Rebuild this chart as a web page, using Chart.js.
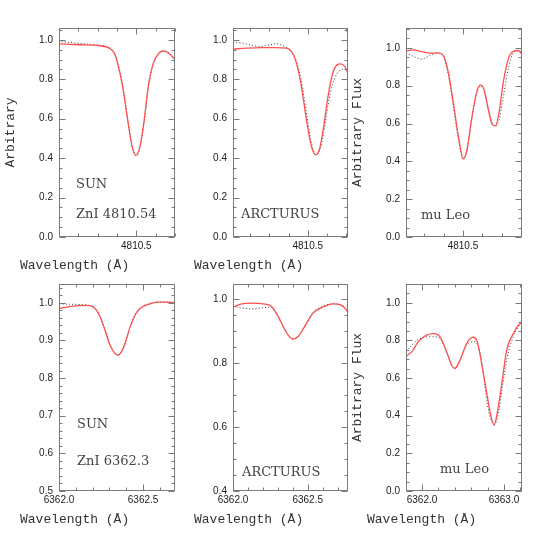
<!DOCTYPE html>
<html><head><meta charset="utf-8">
<script src="https://cdn.jsdelivr.net/npm/chart.js@4.4.0/dist/chart.umd.min.js"></script>
<style>
html,body{margin:0;padding:0;background:#fff;}
#wrap{position:relative;width:550px;height:550px;}
#wrap canvas{position:absolute;left:0;top:0;}
</style></head><body><div id="wrap"></div>
<script>
// ---------- DATA ----------
// Tick labels
const ticksZn4810 = [4810.5];
const ticksZn6362 = [6362.0, 6362.5];
const ticksZn6362Wide = [6362.0, 6363.0];
const ticksFlux01 = [0.0, 0.2, 0.4, 0.6, 0.8, 1.0];
const ticksFluxSun6362 = [0.5, 0.6, 0.7, 0.8, 0.9, 1.0];
const ticksFluxArc6362 = [0.4, 0.6, 0.8, 1.0];

// Panel 1: SUN, ZnI 4810.54
const sun4810SolidWave = [4810.097, 4810.205, 4810.308, 4810.36, 4810.386, 4810.403, 4810.429, 4810.455, 4810.478, 4810.498, 4810.519, 4810.541, 4810.562, 4810.588, 4810.616, 4810.64, 4810.668, 4810.697];
const sun4810SolidFlux = [0.98, 0.975, 0.97, 0.958, 0.932, 0.882, 0.764, 0.595, 0.46, 0.414, 0.46, 0.595, 0.764, 0.882, 0.932, 0.943, 0.932, 0.902];
const sun4810DotWave = [4810.097, 4810.15, 4810.205, 4810.26, 4810.308, 4810.36, 4810.386, 4810.403, 4810.429, 4810.455, 4810.478, 4810.498, 4810.519, 4810.541, 4810.562, 4810.588, 4810.616, 4810.64, 4810.668, 4810.697];
const sun4810DotFlux = [0.992, 0.988, 0.982, 0.977, 0.973, 0.96, 0.935, 0.888, 0.772, 0.60, 0.46, 0.412, 0.455, 0.59, 0.76, 0.88, 0.932, 0.945, 0.935, 0.905];

// Panel 2: ARCTURUS 4810
const arc4810SolidWave = [4810.111, 4810.181, 4810.267, 4810.337, 4810.389, 4810.415, 4810.441, 4810.467, 4810.493, 4810.519, 4810.542, 4810.5625, 4810.583, 4810.606, 4810.628, 4810.653, 4810.672, 4810.693, 4810.71];
const arc4810SolidFlux = [0.953, 0.958, 0.96, 0.96, 0.958, 0.941, 0.882, 0.764, 0.595, 0.46, 0.417, 0.45, 0.56, 0.713, 0.823, 0.873, 0.878, 0.865, 0.831];
const arc4810DotWave = [4810.111, 4810.16, 4810.21, 4810.25, 4810.29, 4810.337, 4810.389, 4810.415, 4810.441, 4810.467, 4810.493, 4810.519, 4810.542, 4810.5625, 4810.583, 4810.606, 4810.628, 4810.653, 4810.672, 4810.693, 4810.71];
const arc4810DotFlux = [0.99, 0.983, 0.972, 0.966, 0.972, 0.98, 0.96, 0.94, 0.89, 0.79, 0.63, 0.48, 0.418, 0.44, 0.53, 0.67, 0.77, 0.83, 0.848, 0.85, 0.84];

// Panel 3: mu Leo 4810
const muleo4810SolidWave = [4810.205, 4810.243, 4810.286, 4810.329, 4810.372, 4810.398, 4810.424, 4810.45, 4810.476, 4810.502, 4810.522, 4810.545, 4810.571, 4810.592, 4810.611, 4810.631, 4810.652, 4810.669, 4810.687, 4810.709, 4810.735, 4810.761, 4810.787, 4810.804];
const muleo4810SolidFlux = [0.982, 0.989, 0.98, 0.972, 0.973, 0.96, 0.871, 0.712, 0.535, 0.414, 0.464, 0.623, 0.765, 0.804, 0.773, 0.676, 0.596, 0.588, 0.658, 0.818, 0.942, 0.982, 0.986, 0.968];
const muleo4810DotWave = [4810.205, 4810.243, 4810.286, 4810.329, 4810.372, 4810.398, 4810.424, 4810.45, 4810.476, 4810.502, 4810.522, 4810.545, 4810.571, 4810.592, 4810.611, 4810.631, 4810.652, 4810.669, 4810.687, 4810.709, 4810.735, 4810.761, 4810.787, 4810.804];
const muleo4810DotFlux = [0.975, 0.955, 0.94, 0.96, 0.972, 0.955, 0.86, 0.69, 0.52, 0.41, 0.47, 0.625, 0.76, 0.8, 0.77, 0.68, 0.6, 0.585, 0.62, 0.74, 0.89, 0.975, 0.985, 0.98];

// Panel 4: SUN, ZnI 6362.3
const sun6362SolidWave = [6362.002, 6362.085, 6362.165, 6362.214, 6362.244, 6362.274, 6362.304, 6362.333, 6362.349, 6362.367, 6362.393, 6362.423, 6362.452, 6362.482, 6362.532, 6362.591, 6362.641, 6362.69];
const sun6362SolidFlux = [0.985, 0.991, 0.993, 0.985, 0.963, 0.927, 0.887, 0.865, 0.861, 0.867, 0.892, 0.936, 0.967, 0.985, 0.996, 1.002, 1.002, 1.0];
const sun6362DotWave = [6362.002, 6362.085, 6362.165, 6362.214, 6362.244, 6362.274, 6362.304, 6362.333, 6362.349, 6362.367, 6362.393, 6362.423, 6362.452, 6362.482, 6362.532, 6362.591, 6362.641, 6362.69];
const sun6362DotFlux = [0.997, 0.996, 0.994, 0.986, 0.964, 0.928, 0.888, 0.866, 0.862, 0.868, 0.893, 0.937, 0.968, 0.986, 0.997, 1.002, 1.002, 1.0];

// Panel 5: ARCTURUS 6362
const arc6362SolidWave = [6362.002, 6362.058, 6362.124, 6362.202, 6362.258, 6362.302, 6362.347, 6362.38, 6362.402, 6362.436, 6362.48, 6362.536, 6362.602, 6362.669, 6362.724, 6362.758, 6362.769];
const arc6362SolidFlux = [0.975, 0.985, 0.987, 0.985, 0.977, 0.946, 0.904, 0.881, 0.875, 0.883, 0.914, 0.956, 0.975, 0.985, 0.981, 0.967, 0.958];
const arc6362DotWave = [6362.002, 6362.058, 6362.124, 6362.202, 6362.258, 6362.302, 6362.347, 6362.38, 6362.402, 6362.436, 6362.48, 6362.536, 6362.602, 6362.669, 6362.724, 6362.758, 6362.769];
const arc6362DotFlux = [0.977, 0.972, 0.969, 0.973, 0.975, 0.946, 0.904, 0.881, 0.875, 0.883, 0.916, 0.958, 0.978, 0.985, 0.982, 0.968, 0.96];

// Panel 6: mu Leo 6362
const muleo6362SolidWave = [6361.805, 6361.874, 6361.955, 6362.057, 6362.14, 6362.22, 6362.301, 6362.362, 6362.402, 6362.463, 6362.545, 6362.62, 6362.675, 6362.728, 6362.79, 6362.84, 6362.88, 6362.92, 6362.972, 6363.033, 6363.114, 6363.175, 6363.22];
const muleo6362SolidFlux = [0.716, 0.739, 0.793, 0.828, 0.836, 0.819, 0.739, 0.668, 0.651, 0.695, 0.784, 0.817, 0.793, 0.677, 0.52, 0.40, 0.35, 0.42, 0.565, 0.748, 0.837, 0.881, 0.894];
const muleo6362DotWave = [6361.805, 6361.874, 6361.955, 6362.057, 6362.14, 6362.22, 6362.301, 6362.362, 6362.402, 6362.463, 6362.545, 6362.646, 6362.70, 6362.75, 6362.79, 6362.84, 6362.885, 6362.93, 6362.98, 6363.04, 6363.114, 6363.175, 6363.22];
const muleo6362DotFlux = [0.741, 0.775, 0.805, 0.819, 0.82, 0.81, 0.739, 0.668, 0.652, 0.693, 0.775, 0.794, 0.75, 0.62, 0.48, 0.38, 0.355, 0.41, 0.55, 0.71, 0.82, 0.872, 0.892];

// ---------- LAYOUT / STYLE ----------
const panels = [
  {box:[59,28,175,237], x:[4810.1,4810.7], y:[0,1.06], xt:ticksZn4810, yt:ticksFlux01, xMinor:0.1, xMajor:0.5, yMinor:0.05, yMajor:0.2,
   s:[sun4810SolidWave, sun4810SolidFlux], d:[sun4810DotWave, sun4810DotFlux],
   notes:[{text:'SUN',dx:17,dy:-49},{text:'ZnI 4810.54',dx:17,dy:-19}], yTitle:'Arbitrary', xTitle:'Wavelength (Å)'},
  {box:[233,28,348,237], x:[4810.11,4810.71], y:[0,1.06], xt:ticksZn4810, yt:ticksFlux01, xMinor:0.1, xMajor:0.5, yMinor:0.05, yMajor:0.2,
   s:[arc4810SolidWave, arc4810SolidFlux], d:[arc4810DotWave, arc4810DotFlux],
   notes:[{text:'ARCTURUS',dx:8,dy:-19}], yTitle:null, xTitle:'Wavelength (Å)'},
  {box:[406,28,522,237], x:[4810.205,4810.806], y:[0,1.105], xt:ticksZn4810, yt:ticksFlux01, xMinor:0.1, xMajor:0.5, yMinor:0.05, yMajor:0.2,
   s:[muleo4810SolidWave, muleo4810SolidFlux], d:[muleo4810DotWave, muleo4810DotFlux],
   notes:[{text:'mu Leo',dx:15,dy:-18}], yTitle:'Arbitrary Flux', xTitle:null},
  {box:[59,284,175,491], x:[6362.0,6362.69], y:[0.5,1.05], xt:ticksZn6362, yt:ticksFluxSun6362, xMinor:0.1, xMajor:0.5, yMinor:0.02, yMajor:0.1,
   s:[sun6362SolidWave, sun6362SolidFlux], d:[sun6362DotWave, sun6362DotFlux],
   notes:[{text:'SUN',dx:18,dy:-63},{text:'ZnI 6362.3',dx:18,dy:-26}], yTitle:null, xTitle:'Wavelength (Å)'},
  {box:[233,284,348,491], x:[6362.0,6362.77], y:[0.4,1.047], xt:ticksZn6362, yt:ticksFluxArc6362, xMinor:0.1, xMajor:0.5, yMinor:0.05, yMajor:0.2,
   s:[arc6362SolidWave, arc6362SolidFlux], d:[arc6362DotWave, arc6362DotFlux],
   notes:[{text:'ARCTURUS',dx:9,dy:-15}], yTitle:null, xTitle:'Wavelength (Å)'},
  {box:[406,284,522,491], x:[6361.805,6363.22], y:[0,1.1], xt:ticksZn6362Wide, yt:ticksFlux01, xMinor:0.2, xMajor:1.0, yMinor:0.05, yMajor:0.2,
   s:[muleo6362SolidWave, muleo6362SolidFlux], d:[muleo6362DotWave, muleo6362DotFlux],
   notes:[{text:'mu Leo',dx:34,dy:-18}], yTitle:'Arbitrary Flux', xTitle:'Wavelength (Å)'}
];

const Y_AXIS_W = 40, X_AXIS_H = 20;
const TICK_FONT = {family:'Liberation Sans', size:10};

const framePlugin = {
  id: 'frame',
  afterDraw(chart) {
    const cfg = chart.options.plugins.frame;
    const {ctx, chartArea: a} = chart;
    const xs = chart.scales.x, ys = chart.scales.y;
    ctx.save();
    ctx.strokeStyle = '#7a7a7a';
    ctx.lineWidth = 1;
    const L = Math.round(a.left) + 0.5, T = Math.round(a.top) + 0.5;
    const R = Math.round(a.right) - 0.5, B = Math.round(a.bottom) - 0.5;
    ctx.strokeRect(L, T, R - L, B - T);
    ctx.beginPath();
    const marks = (scale, minor, major, isX) => {
      const lo = scale.min, hi = scale.max;
      for (let i = Math.ceil(lo / minor - 1e-6); i * minor <= hi + 1e-9; i++) {
        const v = i * minor;
        const r = v / major;
        const len = Math.abs(r - Math.round(r)) < 1e-6 ? 6 : 3;
        const p = Math.round(scale.getPixelForValue(v)) + 0.5;
        if (isX) {
          ctx.moveTo(p, B); ctx.lineTo(p, B - len);
          ctx.moveTo(p, T); ctx.lineTo(p, T + len);
        } else {
          ctx.moveTo(L, p); ctx.lineTo(L + len, p);
          ctx.moveTo(R, p); ctx.lineTo(R - len, p);
        }
      }
    };
    marks(xs, cfg.xMinor, cfg.xMajor, true);
    marks(ys, cfg.yMinor, cfg.yMajor, false);
    ctx.stroke();
    ctx.fillStyle = '#444';
    ctx.textAlign = 'left';
    ctx.textBaseline = 'alphabetic';
    ctx.font = '13px "DejaVu Serif"';
    cfg.notes.forEach(n => ctx.fillText(n.text, a.left + n.dx, a.bottom + n.dy));
    ctx.font = '13px "Liberation Mono"';
    ctx.fillStyle = '#333';
    if (cfg.xTitle) ctx.fillText(cfg.xTitle, a.left - 39, a.bottom + 32);
    if (cfg.yTitle) {
      ctx.translate(a.left - 48, (a.top + a.bottom) / 2);
      ctx.rotate(-Math.PI / 2);
      ctx.textAlign = 'center';
      ctx.textBaseline = 'middle';
      ctx.fillText(cfg.yTitle, 0, 0);
    }
    ctx.restore();
  }
};

const wrap = document.getElementById('wrap');
panels.forEach(p => {
  const cv = document.createElement('canvas');
  cv.width = 550; cv.height = 550;
  cv.style.width = '550px'; cv.style.height = '550px';
  wrap.appendChild(cv);
  const toPts = (xs, ys) => xs.map((x, i) => ({x: x, y: ys[i]}));
  new Chart(cv, {
    type: 'line',
    data: {
      datasets: [
        {data: toPts(p.s[0], p.s[1]), borderColor: '#ff5050', borderWidth: 1.3, pointRadius: 0, cubicInterpolationMode: 'monotone', fill: false},
        {data: toPts(p.d[0], p.d[1]), borderColor: '#333', borderWidth: 1, borderDash: [1, 2.2], pointRadius: 0, cubicInterpolationMode: 'monotone', fill: false}
      ]
    },
    options: {
      responsive: false,
      animation: false,
      devicePixelRatio: 1,
      layout: {padding: {left: p.box[0] - Y_AXIS_W, top: p.box[1], right: 550 - p.box[2], bottom: 550 - p.box[3] - X_AXIS_H}},
      plugins: {
        legend: {display: false},
        tooltip: {enabled: false},
        frame: {xMinor: p.xMinor, xMajor: p.xMajor, yMinor: p.yMinor, yMajor: p.yMajor, notes: p.notes, xTitle: p.xTitle, yTitle: p.yTitle}
      },
      scales: {
        x: {
          type: 'linear', min: p.x[0], max: p.x[1],
          grid: {display: false, drawTicks: false}, border: {display: false},
          afterBuildTicks: s => { s.ticks = p.xt.map(v => ({value: v})); },
          afterFit: s => { s.height = X_AXIS_H; },
          ticks: {font: TICK_FONT, color: '#222', padding: 3, maxRotation: 0, autoSkip: false, callback: v => Number(v).toFixed(1)}
        },
        y: {
          type: 'linear', min: p.y[0], max: p.y[1],
          grid: {display: false, drawTicks: false}, border: {display: false},
          afterBuildTicks: s => { s.ticks = p.yt.map(v => ({value: v})); },
          afterFit: s => { s.width = Y_AXIS_W; },
          ticks: {font: TICK_FONT, color: '#222', padding: 6, autoSkip: false, callback: v => Number(v).toFixed(1)}
        }
      }
    },
    plugins: [framePlugin]
  });
});
</script></body></html>
